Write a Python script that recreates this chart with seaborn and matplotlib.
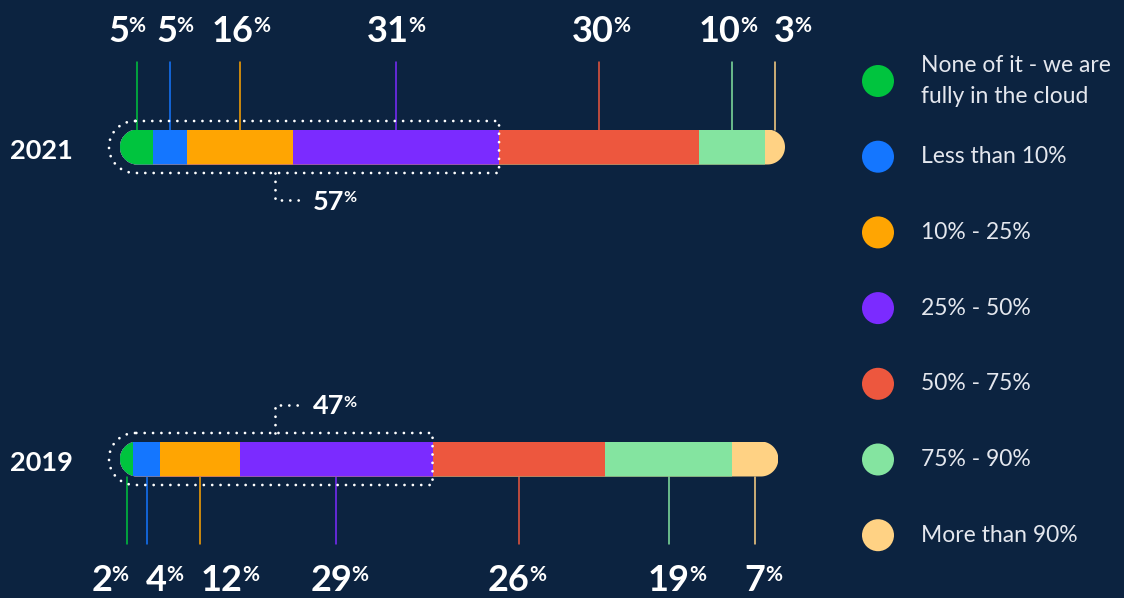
import numpy as np
import pandas as pd
import matplotlib
matplotlib.use("Agg")
import matplotlib.pyplot as plt
import seaborn as sns
from matplotlib.patches import Polygon, Circle

# ---------------- data ----------------
years = ["2021", "2019"]
categories = ["None of it - we are\nfully in the cloud", "Less than 10%", "10% - 25%",
              "25% - 50%", "50% - 75%", "75% - 90%", "More than 90%"]
values_2021 = [5, 5, 16, 31, 30, 10, 3]
values_2019 = [2, 4, 12, 29, 26, 19, 7]
highlight_2021 = 57
highlight_2019 = 47
colors = ["#00c43e", "#1476ff", "#ffa502", "#7b2bff", "#ed573e", "#84e4a0", "#ffd284"]

# ---------------- style / layout ----------------
BG = "#0c2340"
TXT = "#ffffff"
LEG_TXT = "#e4e7ee"
sns.set_theme(style="white")
plt.rcParams["font.family"] = ["Lato", "DejaVu Sans"]

W, H = 1124, 598
fig = plt.figure(figsize=(W / 100, H / 100), dpi=100, facecolor=BG)

PPU_Y = 312.0            # pixels per category step
Y0_PX = 147.0            # pixel row of first bar centre
Y_LO, Y_HI = -0.3, 1.3
top_px = Y0_PX + Y_LO * PPU_Y
bot_px = Y0_PX + Y_HI * PPU_Y
BAR_LEFT_PX, BAR_RIGHT_PX = 120, 785
ax = fig.add_axes([BAR_LEFT_PX / W, 1 - bot_px / H, (BAR_RIGHT_PX - BAR_LEFT_PX) / W, (bot_px - top_px) / H])
ax.set_facecolor(BG)
BAR_W = 35 / PPU_Y

rows = []
for year, vals in zip(years, [values_2021, values_2019]):
    cum = np.cumsum(vals)
    for i, c in enumerate(categories):
        rows.append(dict(year=year, category=c, value=vals[i], cum=cum[i], start=cum[i] - vals[i]))
df = pd.DataFrame(rows)

for i in reversed(range(len(categories))):
    sub = df[df.category == categories[i]]
    sns.barplot(data=sub, x="cum", y="year", order=years, color=colors[i], saturation=1,
                width=BAR_W, orient="h", linewidth=0, errorbar=None, ax=ax, zorder=3)

ax.set_xlim(0, 100)
ax.set_ylim(Y_HI, Y_LO)
ax.axis("off")

p0 = ax.transData.transform((0, 0))
p1 = ax.transData.transform((1, 1))
sx = abs(p1[0] - p0[0])
sy = abs(p1[1] - p0[1])


def pill_points(xl, xr, yc, r_px, round_right=True):
    rx, ry = r_px / sx, r_px / sy
    th = np.linspace(np.pi / 2, 3 * np.pi / 2, 60)
    lx = xl + rx + rx * np.cos(th)
    ly = yc - ry * np.sin(th)
    if round_right:
        th2 = np.linspace(-np.pi / 2, np.pi / 2, 60)
        rxs = xr - rx + rx * np.cos(th2)
        rys = yc - ry * np.sin(th2)
    else:
        rxs = np.array([xr, xr])
        rys = np.array([yc + ry, yc - ry])
    return np.concatenate([lx, rxs]), np.concatenate([ly, rys])


# rounded pill clip per year
pills = []
for yi, vals in enumerate([values_2021, values_2019]):
    total = float(np.sum(vals))
    px_, py_ = pill_points(0, total, yi, 17.5)
    pill = Polygon(np.column_stack([px_, py_]), closed=True, transform=ax.transData)
    pills.append(pill)
for p in ax.patches:
    idx = int(round(p.get_y() + p.get_height() / 2))
    p.set_clip_path(pills[idx])

# ---------------- labels with leader lines ----------------
nudges_px = {"2021": [-18, -3, -7, -8, -6, -12, 9],
             "2019": [-25, 10, 22, -5, -10, 0, 0]}


def pct_label(x, y, num, size, sup_size, ha="center"):
    t = ax.text(x, y, str(num), ha=ha, va="baseline", fontsize=size, fontweight="bold",
                color=TXT, clip_on=False, zorder=6)
    ax.annotate("%", xy=(1, 1), xycoords=t, xytext=(-0.5, -1.0), textcoords="offset points",
                ha="left", va="top", fontsize=sup_size, fontweight="bold", color=TXT,
                annotation_clip=False, zorder=6)
    return t


for yi, year in enumerate(years):
    sub = df[df.year == year]
    direction = -1 if yi == 0 else 1          # above for 2021, below for 2019
    lead_end = yi + direction * 85 / sy
    lab_y = yi + (-105 / sy if yi == 0 else 132 / sy)
    for j, (_, r) in enumerate(sub.iterrows()):
        xc = r.start + r.value / 2
        ax.plot([xc, xc], [yi + direction * BAR_W / 2, lead_end], color=colors[j], lw=1.1,
                clip_on=False, zorder=2)
        pct_label(xc + nudges_px[year][j] / sx, lab_y, int(r.value), 26, 15)
    # year label
    ax.text(-47 / sx, yi + 12 / sy, year, ha="right", va="baseline", fontsize=19.5,
            fontweight="bold", color=TXT, clip_on=False)

# ---------------- dotted highlight brackets ----------------
BRACKET_X = 23.3
BRACKET_END = 27.5
dot_style = dict(color="white", lw=2, linestyle=(0, (0.01, 3)), dash_capstyle="round",
                 clip_on=False, zorder=5)
for yi, hl in enumerate([highlight_2021, highlight_2019]):
    r_px = 35 / 2 + 8.5
    xs, ys = pill_points(-11 / sx, hl, yi, r_px, round_right=False)
    xs = np.concatenate([xs, xs[:1]])
    ys = np.concatenate([ys, ys[:1]])
    ax.plot(xs, ys, **dot_style)
    ry = r_px / sy
    if yi == 0:
        y_edge, y_conn = yi + ry, yi + 53 / sy
    else:
        y_edge, y_conn = yi - ry, yi - 54 / sy
    ax.plot([BRACKET_X, BRACKET_X, BRACKET_END], [y_edge, y_conn, y_conn], **dot_style)
    pct_label(BRACKET_END + 10 / sx, y_conn + 9.5 / sy, hl, 19.5, 11.5, ha="left")

# ---------------- legend ----------------
lax = fig.add_axes([0, 0, 1, 1])
lax.set_xlim(0, W)
lax.set_ylim(H, 0)
lax.axis("off")
lax.patch.set_alpha(0)
LEG_X, LEG_Y0, LEG_STEP = 878, 81, 75.7
for k, (c, lab) in enumerate(zip(colors, categories)):
    yy = LEG_Y0 + k * LEG_STEP
    lax.add_patch(Circle((LEG_X, yy), 16, color=c, lw=0))
    lax.text(LEG_X + 43, yy, lab, ha="left", va="center", fontsize=16.5, color=LEG_TXT,
             linespacing=1.55)

fig.savefig("out.png", dpi=100, facecolor=BG)
